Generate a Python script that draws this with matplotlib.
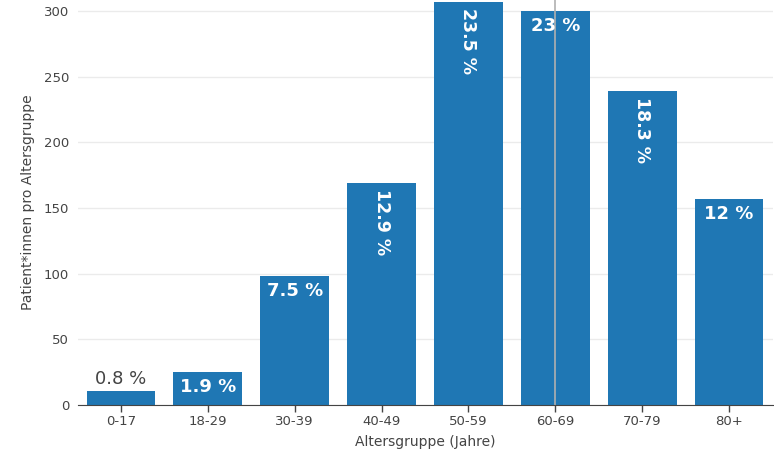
import numpy as np
import matplotlib.pyplot as plt

# Patient*innen pro Altersgruppe
groups = ['0-17', '18-29', '30-39', '40-49', '50-59', '60-69', '70-79', '80+']
counts = [11, 25, 98, 169, 307, 300, 239, 157]
labels = ['0.8 %', '1.9 %', '7.5 %', '12.9 %', '23.5 %', '23 %', '18.3 %', '12 %']
# how each label is placed: 'out' above bar, 'h' inside horizontal, 'v' inside rotated
modes = ['out', 'h', 'h', 'v', 'v', 'h', 'v', 'h']

blue = '#1f77b4'
grey = '#444444'

fig = plt.figure(figsize=(7.74, 4.55), dpi=100)
ax = fig.add_axes([77.5 / 774, 50 / 455, 695 / 774, 405 / 455])

x = np.arange(len(groups))
ax.bar(x, counts, width=0.79, color=blue, zorder=2)

ax.set_xlim(-0.5, len(groups) - 0.5)
ax.set_ylim(0, 308.4)
ax.set_yticks([0, 50, 100, 150, 200, 250, 300])
ax.grid(axis='y', color='#ebebeb', linewidth=1, zorder=0)
ax.set_xticks(x)
ax.set_xticklabels(groups)

for s in ['top', 'right', 'left']:
    ax.spines[s].set_visible(False)
ax.spines['bottom'].set_color(grey)
ax.spines['bottom'].set_zorder(3)
ax.tick_params(axis='x', colors=grey, labelsize=9.5, length=5, width=1, pad=2)
ax.tick_params(axis='y', colors=grey, labelsize=9.5, length=0, pad=6)
for t in ax.get_xticklabels() + ax.get_yticklabels():
    t.set_color(grey)

ax.set_xlabel('Altersgruppe (Jahre)', fontsize=10, color=grey, labelpad=5)
ax.set_ylabel('Patient*innen pro Altersgruppe', fontsize=10, color=grey, labelpad=6)

# per-pixel size in data units
px = 308.4 / 405
for xi, c, lab, m in zip(x, counts, labels, modes):
    if m == 'out':
        ax.text(xi, c + 3 * px, lab, ha='center', va='bottom', fontsize=13, color=grey, zorder=4)
    elif m == 'h':
        ax.text(xi, c - 6 * px, lab, ha='center', va='top', fontsize=13, color='white',
                fontweight='bold', zorder=4)
    else:
        ax.text(xi, c - 6 * px, lab, ha='center', va='top', fontsize=12.5, color='white',
                fontweight='bold', rotation=-90, zorder=4)

# hover spike line
ax.axvline(5, color='#b0b0b0', linewidth=1.2, zorder=3)

fig.savefig('out.png', dpi=100)
